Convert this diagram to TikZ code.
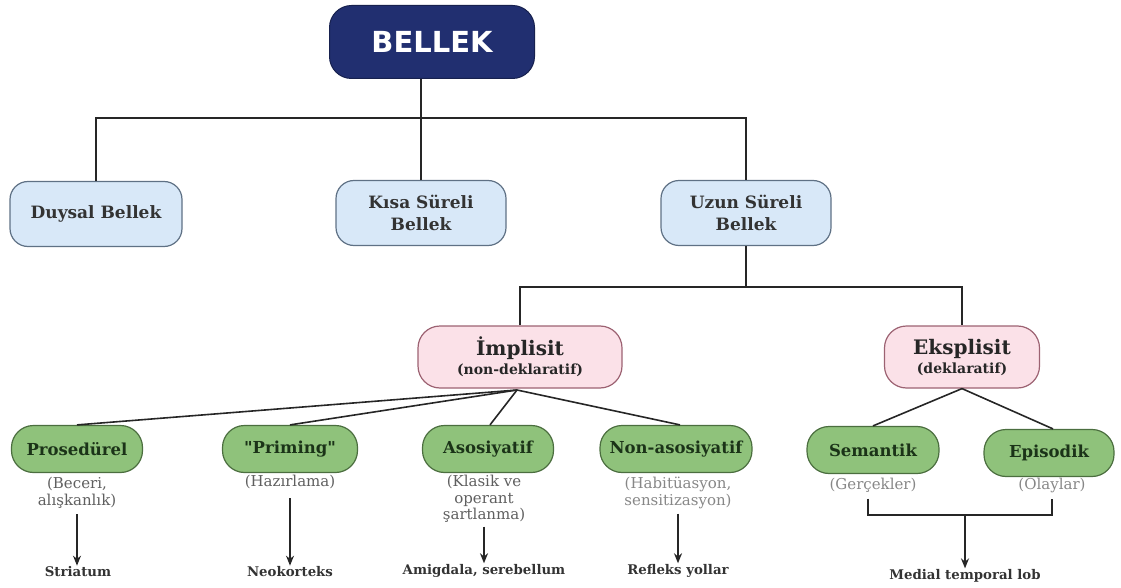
\documentclass[tikz,border=0pt]{standalone}
\usepackage{fontspec}
\setmainfont{DejaVu Serif}
\setsansfont{DejaVu Sans}
\usetikzlibrary{arrows.meta, positioning, calc}
\definecolor{rootcolor} {RGB}{ 33,  47, 112}
\definecolor{typecolor} {RGB}{216, 232, 248}
\definecolor{typeline}  {RGB}{ 95, 113, 133}
\definecolor{kindcolor} {RGB}{251, 225, 232}
\definecolor{kindline}  {RGB}{156,  98, 114}
\definecolor{leafcolor} {RGB}{143, 194, 123}
\definecolor{leafline}  {RGB}{ 75, 110,  63}
\definecolor{leaftext}  {RGB}{ 27,  51,  24}
\definecolor{subcolor}  {RGB}{ 95,  95,  95}
\definecolor{subpale}   {RGB}{135, 135, 135}
\definecolor{areacolor} {RGB}{ 51,  51,  51}
\tikzset{
	rootblock/.style={
		rectangle, rounded corners=22pt,
		minimum width=205pt, minimum height=73pt,
		align=center, font=\sffamily\bfseries\fontsize{29}{32}\selectfont,
		fill=rootcolor, draw=rootcolor!70!black, line width=1pt, text=white
	},
	typeblock/.style={
		rectangle, rounded corners=18pt,
		minimum width=170pt, minimum height=65pt,
		align=center, font=\bfseries\fontsize{17}{22}\selectfont,
		fill=typecolor, draw=typeline, line width=1.2pt, text=black!80
	},
	kindblock/.style={
		rectangle, rounded corners=22pt,
		minimum height=62pt,
		align=center, font=\bfseries\fontsize{20}{22}\selectfont,
		fill=kindcolor, draw=kindline, line width=1.2pt, text=black!85
	},
	leafblock/.style={
		rectangle, rounded corners=22pt,
		minimum height=47pt,
		align=center, font=\bfseries\fontsize{16.5}{19}\selectfont,
		fill=leafcolor, draw=leafline, line width=1.2pt, text=leaftext
	},
	subtext/.style={
		align=center, inner sep=1pt, text=subcolor,
		font=\fontsize{15}{16.5}\selectfont
	},
	palesub/.style={subtext, text=subpale},
	areatext/.style={
		align=center, inner sep=1pt, text=areacolor,
		font=\bfseries\fontsize{13.3}{15}\selectfont
	},
	link/.style={line width=1.6pt, color=black!85},
	arrow/.style={
		-{Stealth[length=10pt, width=8pt]}, line width=1.6pt, color=black!85
	}
}

\begin{document}
\begin{tikzpicture}[x=1pt, y=-1pt]
	\useasboundingbox (0,0) rectangle (1121,588);
	%% ═══════════════════════════════
	%%  ROW 1 — BELLEK
	%% ═══════════════════════════════
	\node[rootblock] (bellek) at (432,42) {BELLEK};
	
	%% ═══════════════════════════════
	%%  ROW 2 — bellek türleri
	%% ═══════════════════════════════
	\node[typeblock, minimum width=172pt] (duysal) at (96,214) {Duysal Bellek};
	\node[typeblock] (kisa) at (421,213) {Kısa Süreli\\Bellek};
	\node[typeblock] (uzun) at (746,213) {Uzun Süreli\\Bellek};
	
	%% ═══════════════════════════════
	%%  ROW 3 — İmplisit / Eksplisit
	%% ═══════════════════════════════
	\node[kindblock, minimum width=204pt] (implisit) at (520,357)
	{İmplisit\\[-3pt]{\fontsize{14}{16}\selectfont(non-deklaratif)}};
	\node[kindblock, minimum width=155pt] (eksplisit) at (962,357)
	{Eksplisit\\[-3pt]{\fontsize{14}{16}\selectfont(deklaratif)}};
	
	%% ═══════════════════════════════
	%%  ROW 4 — alt türler
	%% ═══════════════════════════════
	\node[leafblock, minimum width=131pt] (prosedurel) at (77,449) {Prosedürel};
	\node[leafblock, minimum width=135pt] (priming) at (290,449) {\textquotedbl Priming\textquotedbl};
	\node[leafblock, minimum width=131pt] (asosiyatif) at (488,449) {Asosiyatif};
	\node[leafblock, minimum width=152pt] (nonasos) at (676,449) {Non-asosiyatif};
	\node[leafblock, minimum width=132pt] (semantik) at (873,450) {Semantik};
	\node[leafblock, minimum width=130pt] (episodik) at (1049,453) {Episodik};
	
	% açıklamalar
	\node[subtext, anchor=north] (prosSub) at (77,476) {(Beceri,\\alışkanlık)};
	\node[subtext, anchor=north] (primSub) at (290,474) {(Hazırlama)};
	\node[subtext, anchor=north] (asosSub) at (484,474) {(Klasik ve\\operant\\şartlanma)};
	\node[palesub, anchor=north] (nonSub) at (678,476) {(Habitüasyon,\\sensitizasyon)};
	\node[palesub, anchor=north] (semSub) at (873,477) {(Gerçekler)};
	\node[palesub, anchor=north] (epiSub) at (1052,477) {(Olaylar)};
	
	%% ═══════════════════════════════
	%%  ROW 5 — beyin bölgeleri
	%% ═══════════════════════════════
	\node[areatext] (striatum) at (78,572) {Striatum};
	\node[areatext] (neokorteks) at (290,572) {Neokorteks};
	\node[areatext] (amigdala) at (484,571) {Amigdala, serebellum};
	\node[areatext] (refleks) at (678,571) {Refleks yollar};
	\node[areatext] (medial) at (965,576) {Medial temporal lob};
	
	\coordinate (bus1) at (422,118);
	\coordinate (bus2) at (746,287);
	\coordinate (fan) at (517,390);
	\coordinate (brk) at (965,515);
	
	%% ═══════════════════════════════
	%%  LINKS
	%% ═══════════════════════════════
	
	% BELLEK → türler
	\draw[link] (bellek.south -| kisa.north) -- (kisa.north);
	\draw[link] (duysal.north) |- (bus1) -| (uzun.north);
	
	% Uzun Süreli → İmplisit / Eksplisit
	\draw[link] (uzun.south) -- (bus2);
	\draw[link] (implisit.north) |- (bus2) -| (eksplisit.north);
	
	% İmplisit → alt türler
	\draw[link] (fan) -- (prosedurel.north);
	\draw[link] (fan) -- (priming.north);
	\draw[link] (fan) -- ([xshift=2pt]asosiyatif.north);
	\draw[link] (fan) -- ([xshift=4pt]nonasos.north);
	
	% Eksplisit → alt türler
	\draw[link] (eksplisit.south) -- (semantik.north);
	\draw[link] (eksplisit.south) -- ([xshift=4pt]episodik.north);
	
	%% ═══════════════════════════════
	%%  ARROWS
	%% ═══════════════════════════════
	\draw[arrow] ([yshift=-5pt]prosSub.south) -- (prosSub.south |- striatum.north);
	\draw[arrow] ([yshift=-8pt]primSub.south) -- (primSub.south |- neokorteks.north);
	\draw[arrow] ([yshift=-3pt]asosSub.south) -- (asosSub.south |- amigdala.north);
	\draw[arrow] ([yshift=-4pt]nonSub.south) -- (nonSub.south |- refleks.north);
	
	% Semantik + Episodik → Medial temporal lob
	\draw[link] ([xshift=-5pt,yshift=-5pt]semSub.south) |- (brk) -| ([yshift=-5pt]epiSub.south);
	\draw[arrow] (brk) -- (medial.north);
	
\end{tikzpicture}
\end{document}
